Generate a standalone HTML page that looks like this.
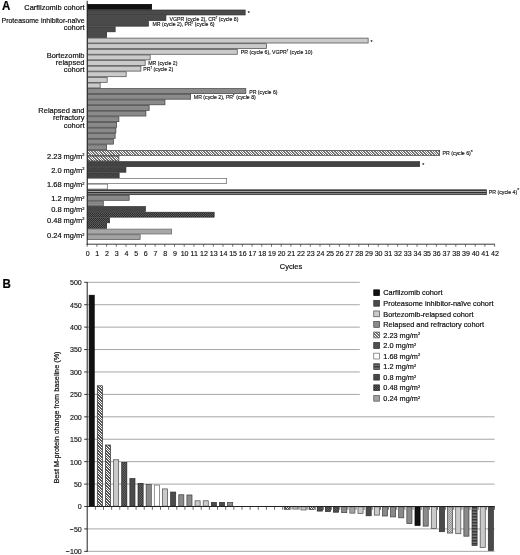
<!DOCTYPE html>
<html lang="en"><head><meta charset="utf-8"><title>Figure</title>
<style>
html,body{margin:0;padding:0;background:#fff;}
body{width:520px;height:555px;overflow:hidden;font-family:"Liberation Sans", sans-serif;}
svg{display:block;position:absolute;left:0;top:0;}
text{font-family:"Liberation Sans", sans-serif;fill:#0c0c0c;stroke:#0c0c0c;stroke-width:0.19px;}
.l{font-size:8.05px;}
.g{font-size:7.95px;}
.t{font-size:8px;stroke-width:0.14px;}
.a{font-size:5.8px;stroke-width:0.13px;}
.p{font-size:12px;font-weight:bold;fill:#000;stroke-width:0.2px;}
</style></head><body>
<svg width="520" height="555" viewBox="0 0 520 555">

<defs>
<pattern id="pHatch" width="1.65" height="1.65" patternUnits="userSpaceOnUse"><rect width="1.65" height="1.65" fill="#eeeeee"/><path d="M-1,-1 L2.65,2.65 M0.6499999999999999,-1 L2.65,1 M-1,0.6499999999999999 L1,2.65" stroke="#8c8c8c" stroke-width="0.55" fill="none"/></pattern>
<pattern id="pHatchB" width="1.6" height="1.6" patternUnits="userSpaceOnUse"><rect width="1.6" height="1.6" fill="#ffffff"/><path d="M-1,-1 L2.6,2.6 M0.6000000000000001,-1 L2.6,1 M-1,0.6000000000000001 L1,2.6" stroke="#333333" stroke-width="0.55" fill="none"/></pattern>
<pattern id="pHatchX" width="1.8" height="1.8" patternUnits="userSpaceOnUse"><rect width="1.8" height="1.8" fill="#e8e8e8"/><rect x="0" y="0" width="0.8" height="0.8" fill="#555555"/><rect x="0.9" y="0.9" width="0.8" height="0.8" fill="#555555"/></pattern>
<pattern id="pCross" width="1.6" height="1.6" patternUnits="userSpaceOnUse"><rect width="1.6" height="1.6" fill="#363636"/><rect x="0" y="0" width="0.7" height="0.7" fill="#585858"/><rect x="0.8" y="0.8" width="0.7" height="0.7" fill="#585858"/></pattern>
<pattern id="pCrossB" width="1.7" height="1.7" patternUnits="userSpaceOnUse"><rect width="1.7" height="1.7" fill="#262626"/><rect x="0" y="0" width="0.68" height="0.68" fill="#a8a8a8"/><rect x="0.85" y="0.85" width="0.68" height="0.68" fill="#a8a8a8"/></pattern>
<pattern id="pCross2" width="2.0" height="2.0" patternUnits="userSpaceOnUse"><rect width="2.0" height="2.0" fill="#2e2e2e"/><rect x="0" y="0" width="0.9" height="0.9" fill="#666666"/><rect x="1.0" y="1.0" width="0.9" height="0.9" fill="#666666"/></pattern>
<pattern id="pDots" width="1.4" height="1.4" patternUnits="userSpaceOnUse"><rect width="1.4" height="1.4" fill="#3c3c3c"/><rect x="0" y="0" width="0.6" height="0.6" fill="#565656"/><rect x="0.7" y="0.7" width="0.6" height="0.6" fill="#565656"/></pattern>
<pattern id="pHs" width="4" height="2.25" patternUnits="userSpaceOnUse" patternTransform="translate(0,189.76)"><rect width="4" height="2.25" fill="#b4b4b4"/><rect width="4" height="1.3" fill="#2a2a2a"/></pattern>
<pattern id="pHsB" width="4" height="1.5" patternUnits="userSpaceOnUse"><rect width="4" height="1.5" fill="#8a8a8a"/><rect width="4" height="0.8" fill="#2a2a2a"/></pattern>
<pattern id="pMs" width="4" height="1.9" patternUnits="userSpaceOnUse"><rect width="4" height="1.9" fill="#9a9a9a"/><rect width="4" height="0.8" fill="#6a6a6a"/></pattern>
<pattern id="pLm" width="1.5" height="1.5" patternUnits="userSpaceOnUse"><rect width="1.5" height="1.5" fill="#a0a0a0"/><rect x="0" y="0" width="0.6" height="0.6" fill="#b6b6b6"/><rect x="0.75" y="0.75" width="0.6" height="0.6" fill="#b6b6b6"/></pattern>
</defs>
<g id="chartA">
<rect x="87.50" y="4.40" width="64.15" height="4.92" fill="#111" stroke="#000" stroke-width="0.7"/>
<rect x="87.50" y="10.02" width="157.65" height="4.92" fill="#4a4a4a" stroke="#2e2e2e" stroke-width="0.7"/>
<rect x="87.50" y="15.63" width="78.40" height="4.92" fill="#4a4a4a" stroke="#2e2e2e" stroke-width="0.7"/>
<rect x="87.50" y="21.25" width="60.90" height="4.92" fill="#4a4a4a" stroke="#2e2e2e" stroke-width="0.7"/>
<rect x="87.50" y="26.87" width="27.65" height="4.92" fill="#4a4a4a" stroke="#2e2e2e" stroke-width="0.7"/>
<rect x="87.50" y="32.48" width="19.15" height="4.92" fill="#4a4a4a" stroke="#2e2e2e" stroke-width="0.7"/>
<rect x="87.50" y="38.10" width="280.65" height="4.92" fill="#cacaca" stroke="#484848" stroke-width="0.7"/>
<rect x="87.50" y="43.72" width="179.05" height="4.92" fill="#cacaca" stroke="#484848" stroke-width="0.7"/>
<rect x="87.50" y="49.34" width="149.75" height="4.92" fill="#cacaca" stroke="#484848" stroke-width="0.7"/>
<rect x="87.50" y="54.95" width="62.65" height="4.92" fill="#cacaca" stroke="#484848" stroke-width="0.7"/>
<rect x="87.50" y="60.57" width="57.65" height="4.92" fill="#cacaca" stroke="#484848" stroke-width="0.7"/>
<rect x="87.50" y="66.19" width="53.40" height="4.92" fill="#cacaca" stroke="#484848" stroke-width="0.7"/>
<rect x="87.50" y="71.80" width="38.65" height="4.92" fill="#cacaca" stroke="#484848" stroke-width="0.7"/>
<rect x="87.50" y="77.42" width="19.65" height="4.92" fill="#cacaca" stroke="#484848" stroke-width="0.7"/>
<rect x="87.50" y="83.04" width="12.65" height="4.92" fill="#cacaca" stroke="#484848" stroke-width="0.7"/>
<rect x="87.50" y="88.65" width="158.35" height="4.92" fill="#8a8a8a" stroke="#3e3e3e" stroke-width="0.7"/>
<rect x="87.50" y="94.27" width="103.15" height="4.92" fill="#8a8a8a" stroke="#3e3e3e" stroke-width="0.7"/>
<rect x="87.50" y="99.89" width="77.45" height="4.92" fill="#8a8a8a" stroke="#3e3e3e" stroke-width="0.7"/>
<rect x="87.50" y="105.51" width="61.65" height="4.92" fill="#8a8a8a" stroke="#3e3e3e" stroke-width="0.7"/>
<rect x="87.50" y="111.12" width="58.40" height="4.92" fill="#8a8a8a" stroke="#3e3e3e" stroke-width="0.7"/>
<rect x="87.50" y="116.74" width="31.40" height="4.92" fill="#8a8a8a" stroke="#3e3e3e" stroke-width="0.7"/>
<rect x="87.50" y="122.36" width="29.15" height="4.92" fill="#8a8a8a" stroke="#3e3e3e" stroke-width="0.7"/>
<rect x="87.50" y="127.97" width="28.40" height="4.92" fill="#8a8a8a" stroke="#3e3e3e" stroke-width="0.7"/>
<rect x="87.50" y="133.59" width="27.65" height="4.92" fill="#8a8a8a" stroke="#3e3e3e" stroke-width="0.7"/>
<rect x="87.50" y="139.21" width="25.90" height="4.92" fill="#8a8a8a" stroke="#3e3e3e" stroke-width="0.7"/>
<rect x="87.50" y="144.83" width="19.15" height="4.92" fill="#8a8a8a" stroke="#3e3e3e" stroke-width="0.7"/>
<clipPath id="c1"><rect x="87.50" y="150.44" width="352.15" height="4.92"/></clipPath>
<rect x="87.50" y="150.44" width="352.15" height="4.92" fill="#ffffff"/>
<path clip-path="url(#c1)" d="M80.00,149.94l5.92,5.92M81.60,149.94l5.92,5.92M83.20,149.94l5.92,5.92M84.80,149.94l5.92,5.92M86.40,149.94l5.92,5.92M88.00,149.94l5.92,5.92M89.60,149.94l5.92,5.92M91.20,149.94l5.92,5.92M92.80,149.94l5.92,5.92M94.40,149.94l5.92,5.92M96.00,149.94l5.92,5.92M97.60,149.94l5.92,5.92M99.20,149.94l5.92,5.92M100.80,149.94l5.92,5.92M102.40,149.94l5.92,5.92M104.00,149.94l5.92,5.92M105.60,149.94l5.92,5.92M107.20,149.94l5.92,5.92M108.80,149.94l5.92,5.92M110.40,149.94l5.92,5.92M112.00,149.94l5.92,5.92M113.60,149.94l5.92,5.92M115.20,149.94l5.92,5.92M116.80,149.94l5.92,5.92M118.40,149.94l5.92,5.92M120.00,149.94l5.92,5.92M121.60,149.94l5.92,5.92M123.20,149.94l5.92,5.92M124.80,149.94l5.92,5.92M126.40,149.94l5.92,5.92M128.00,149.94l5.92,5.92M129.60,149.94l5.92,5.92M131.20,149.94l5.92,5.92M132.80,149.94l5.92,5.92M134.40,149.94l5.92,5.92M136.00,149.94l5.92,5.92M137.60,149.94l5.92,5.92M139.20,149.94l5.92,5.92M140.80,149.94l5.92,5.92M142.40,149.94l5.92,5.92M144.00,149.94l5.92,5.92M145.60,149.94l5.92,5.92M147.20,149.94l5.92,5.92M148.80,149.94l5.92,5.92M150.40,149.94l5.92,5.92M152.00,149.94l5.92,5.92M153.60,149.94l5.92,5.92M155.20,149.94l5.92,5.92M156.80,149.94l5.92,5.92M158.40,149.94l5.92,5.92M160.00,149.94l5.92,5.92M161.60,149.94l5.92,5.92M163.20,149.94l5.92,5.92M164.80,149.94l5.92,5.92M166.40,149.94l5.92,5.92M168.00,149.94l5.92,5.92M169.60,149.94l5.92,5.92M171.20,149.94l5.92,5.92M172.80,149.94l5.92,5.92M174.40,149.94l5.92,5.92M176.00,149.94l5.92,5.92M177.60,149.94l5.92,5.92M179.20,149.94l5.92,5.92M180.80,149.94l5.92,5.92M182.40,149.94l5.92,5.92M184.00,149.94l5.92,5.92M185.60,149.94l5.92,5.92M187.20,149.94l5.92,5.92M188.80,149.94l5.92,5.92M190.40,149.94l5.92,5.92M192.00,149.94l5.92,5.92M193.60,149.94l5.92,5.92M195.20,149.94l5.92,5.92M196.80,149.94l5.92,5.92M198.40,149.94l5.92,5.92M200.00,149.94l5.92,5.92M201.60,149.94l5.92,5.92M203.20,149.94l5.92,5.92M204.80,149.94l5.92,5.92M206.40,149.94l5.92,5.92M208.00,149.94l5.92,5.92M209.60,149.94l5.92,5.92M211.20,149.94l5.92,5.92M212.80,149.94l5.92,5.92M214.40,149.94l5.92,5.92M216.00,149.94l5.92,5.92M217.60,149.94l5.92,5.92M219.20,149.94l5.92,5.92M220.80,149.94l5.92,5.92M222.40,149.94l5.92,5.92M224.00,149.94l5.92,5.92M225.60,149.94l5.92,5.92M227.20,149.94l5.92,5.92M228.80,149.94l5.92,5.92M230.40,149.94l5.92,5.92M232.00,149.94l5.92,5.92M233.60,149.94l5.92,5.92M235.20,149.94l5.92,5.92M236.80,149.94l5.92,5.92M238.40,149.94l5.92,5.92M240.00,149.94l5.92,5.92M241.60,149.94l5.92,5.92M243.20,149.94l5.92,5.92M244.80,149.94l5.92,5.92M246.40,149.94l5.92,5.92M248.00,149.94l5.92,5.92M249.60,149.94l5.92,5.92M251.20,149.94l5.92,5.92M252.80,149.94l5.92,5.92M254.40,149.94l5.92,5.92M256.00,149.94l5.92,5.92M257.60,149.94l5.92,5.92M259.20,149.94l5.92,5.92M260.80,149.94l5.92,5.92M262.40,149.94l5.92,5.92M264.00,149.94l5.92,5.92M265.60,149.94l5.92,5.92M267.20,149.94l5.92,5.92M268.80,149.94l5.92,5.92M270.40,149.94l5.92,5.92M272.00,149.94l5.92,5.92M273.60,149.94l5.92,5.92M275.20,149.94l5.92,5.92M276.80,149.94l5.92,5.92M278.40,149.94l5.92,5.92M280.00,149.94l5.92,5.92M281.60,149.94l5.92,5.92M283.20,149.94l5.92,5.92M284.80,149.94l5.92,5.92M286.40,149.94l5.92,5.92M288.00,149.94l5.92,5.92M289.60,149.94l5.92,5.92M291.20,149.94l5.92,5.92M292.80,149.94l5.92,5.92M294.40,149.94l5.92,5.92M296.00,149.94l5.92,5.92M297.60,149.94l5.92,5.92M299.20,149.94l5.92,5.92M300.80,149.94l5.92,5.92M302.40,149.94l5.92,5.92M304.00,149.94l5.92,5.92M305.60,149.94l5.92,5.92M307.20,149.94l5.92,5.92M308.80,149.94l5.92,5.92M310.40,149.94l5.92,5.92M312.00,149.94l5.92,5.92M313.60,149.94l5.92,5.92M315.20,149.94l5.92,5.92M316.80,149.94l5.92,5.92M318.40,149.94l5.92,5.92M320.00,149.94l5.92,5.92M321.60,149.94l5.92,5.92M323.20,149.94l5.92,5.92M324.80,149.94l5.92,5.92M326.40,149.94l5.92,5.92M328.00,149.94l5.92,5.92M329.60,149.94l5.92,5.92M331.20,149.94l5.92,5.92M332.80,149.94l5.92,5.92M334.40,149.94l5.92,5.92M336.00,149.94l5.92,5.92M337.60,149.94l5.92,5.92M339.20,149.94l5.92,5.92M340.80,149.94l5.92,5.92M342.40,149.94l5.92,5.92M344.00,149.94l5.92,5.92M345.60,149.94l5.92,5.92M347.20,149.94l5.92,5.92M348.80,149.94l5.92,5.92M350.40,149.94l5.92,5.92M352.00,149.94l5.92,5.92M353.60,149.94l5.92,5.92M355.20,149.94l5.92,5.92M356.80,149.94l5.92,5.92M358.40,149.94l5.92,5.92M360.00,149.94l5.92,5.92M361.60,149.94l5.92,5.92M363.20,149.94l5.92,5.92M364.80,149.94l5.92,5.92M366.40,149.94l5.92,5.92M368.00,149.94l5.92,5.92M369.60,149.94l5.92,5.92M371.20,149.94l5.92,5.92M372.80,149.94l5.92,5.92M374.40,149.94l5.92,5.92M376.00,149.94l5.92,5.92M377.60,149.94l5.92,5.92M379.20,149.94l5.92,5.92M380.80,149.94l5.92,5.92M382.40,149.94l5.92,5.92M384.00,149.94l5.92,5.92M385.60,149.94l5.92,5.92M387.20,149.94l5.92,5.92M388.80,149.94l5.92,5.92M390.40,149.94l5.92,5.92M392.00,149.94l5.92,5.92M393.60,149.94l5.92,5.92M395.20,149.94l5.92,5.92M396.80,149.94l5.92,5.92M398.40,149.94l5.92,5.92M400.00,149.94l5.92,5.92M401.60,149.94l5.92,5.92M403.20,149.94l5.92,5.92M404.80,149.94l5.92,5.92M406.40,149.94l5.92,5.92M408.00,149.94l5.92,5.92M409.60,149.94l5.92,5.92M411.20,149.94l5.92,5.92M412.80,149.94l5.92,5.92M414.40,149.94l5.92,5.92M416.00,149.94l5.92,5.92M417.60,149.94l5.92,5.92M419.20,149.94l5.92,5.92M420.80,149.94l5.92,5.92M422.40,149.94l5.92,5.92M424.00,149.94l5.92,5.92M425.60,149.94l5.92,5.92M427.20,149.94l5.92,5.92M428.80,149.94l5.92,5.92M430.40,149.94l5.92,5.92M432.00,149.94l5.92,5.92M433.60,149.94l5.92,5.92M435.20,149.94l5.92,5.92M436.80,149.94l5.92,5.92M438.40,149.94l5.92,5.92M440.00,149.94l5.92,5.92" stroke="#141414" stroke-width="0.6" fill="none" shape-rendering="crispEdges"/>
<rect x="87.50" y="150.44" width="352.15" height="4.92" fill="none" stroke="#3a3a3a" stroke-width="0.7"/>
<clipPath id="c2"><rect x="87.50" y="156.06" width="31.40" height="4.92"/></clipPath>
<rect x="87.50" y="156.06" width="31.40" height="4.92" fill="#ffffff"/>
<path clip-path="url(#c2)" d="M80.00,155.56l5.92,5.92M81.60,155.56l5.92,5.92M83.20,155.56l5.92,5.92M84.80,155.56l5.92,5.92M86.40,155.56l5.92,5.92M88.00,155.56l5.92,5.92M89.60,155.56l5.92,5.92M91.20,155.56l5.92,5.92M92.80,155.56l5.92,5.92M94.40,155.56l5.92,5.92M96.00,155.56l5.92,5.92M97.60,155.56l5.92,5.92M99.20,155.56l5.92,5.92M100.80,155.56l5.92,5.92M102.40,155.56l5.92,5.92M104.00,155.56l5.92,5.92M105.60,155.56l5.92,5.92M107.20,155.56l5.92,5.92M108.80,155.56l5.92,5.92M110.40,155.56l5.92,5.92M112.00,155.56l5.92,5.92M113.60,155.56l5.92,5.92M115.20,155.56l5.92,5.92M116.80,155.56l5.92,5.92M118.40,155.56l5.92,5.92" stroke="#141414" stroke-width="0.6" fill="none" shape-rendering="crispEdges"/>
<rect x="87.50" y="156.06" width="31.40" height="4.92" fill="none" stroke="#3a3a3a" stroke-width="0.7"/>
<rect x="87.50" y="161.68" width="332.15" height="4.92" fill="url(#pCross)" stroke="#2e2e2e" stroke-width="0.7"/>
<rect x="87.50" y="167.29" width="38.40" height="4.92" fill="url(#pCross)" stroke="#2e2e2e" stroke-width="0.7"/>
<rect x="87.50" y="172.91" width="31.65" height="4.92" fill="url(#pCross)" stroke="#2e2e2e" stroke-width="0.7"/>
<rect x="87.50" y="178.53" width="139.15" height="4.92" fill="#fff" stroke="#666" stroke-width="0.7"/>
<rect x="87.50" y="184.14" width="20.15" height="4.92" fill="#fff" stroke="#666" stroke-width="0.7"/>
<rect x="87.50" y="189.76" width="398.95" height="4.92" fill="url(#pHs)" stroke="#333" stroke-width="0.7"/>
<rect x="87.50" y="195.38" width="41.65" height="4.92" fill="#8a8a8a" stroke="#3e3e3e" stroke-width="0.7"/>
<rect x="87.50" y="201.00" width="15.90" height="4.92" fill="url(#pMs)" stroke="#555" stroke-width="0.7"/>
<rect x="87.50" y="206.61" width="57.90" height="4.92" fill="url(#pDots)" stroke="#2e2e2e" stroke-width="0.7"/>
<rect x="87.50" y="212.23" width="126.65" height="4.92" fill="url(#pCross2)" stroke="#2a2a2a" stroke-width="0.7"/>
<rect x="87.50" y="217.85" width="22.15" height="4.92" fill="url(#pCross2)" stroke="#2a2a2a" stroke-width="0.7"/>
<rect x="87.50" y="223.46" width="19.15" height="4.92" fill="url(#pCross2)" stroke="#2a2a2a" stroke-width="0.7"/>
<rect x="87.50" y="229.08" width="84.15" height="4.92" fill="url(#pLm)" stroke="#666" stroke-width="0.7"/>
<rect x="87.50" y="234.70" width="52.65" height="4.92" fill="#a2a2a2" stroke="#555" stroke-width="0.7"/>
<line x1="87.20" y1="0.8" x2="87.20" y2="245" stroke="#222" stroke-width="1"/>
<line x1="86.70" y1="244.2" x2="495.00" y2="244.2" stroke="#222" stroke-width="0.9"/>
<line x1="87.20" y1="244.3" x2="87.20" y2="246.7" stroke="#3a3a3a" stroke-width="0.75"/>
<line x1="96.90" y1="244.3" x2="96.90" y2="246.7" stroke="#3a3a3a" stroke-width="0.75"/>
<line x1="106.60" y1="244.3" x2="106.60" y2="246.7" stroke="#3a3a3a" stroke-width="0.75"/>
<line x1="116.30" y1="244.3" x2="116.30" y2="246.7" stroke="#3a3a3a" stroke-width="0.75"/>
<line x1="126.00" y1="244.3" x2="126.00" y2="246.7" stroke="#3a3a3a" stroke-width="0.75"/>
<line x1="135.70" y1="244.3" x2="135.70" y2="246.7" stroke="#3a3a3a" stroke-width="0.75"/>
<line x1="145.40" y1="244.3" x2="145.40" y2="246.7" stroke="#3a3a3a" stroke-width="0.75"/>
<line x1="155.10" y1="244.3" x2="155.10" y2="246.7" stroke="#3a3a3a" stroke-width="0.75"/>
<line x1="164.80" y1="244.3" x2="164.80" y2="246.7" stroke="#3a3a3a" stroke-width="0.75"/>
<line x1="174.50" y1="244.3" x2="174.50" y2="246.7" stroke="#3a3a3a" stroke-width="0.75"/>
<line x1="184.20" y1="244.3" x2="184.20" y2="246.7" stroke="#3a3a3a" stroke-width="0.75"/>
<line x1="193.90" y1="244.3" x2="193.90" y2="246.7" stroke="#3a3a3a" stroke-width="0.75"/>
<line x1="203.60" y1="244.3" x2="203.60" y2="246.7" stroke="#3a3a3a" stroke-width="0.75"/>
<line x1="213.30" y1="244.3" x2="213.30" y2="246.7" stroke="#3a3a3a" stroke-width="0.75"/>
<line x1="223.00" y1="244.3" x2="223.00" y2="246.7" stroke="#3a3a3a" stroke-width="0.75"/>
<line x1="232.70" y1="244.3" x2="232.70" y2="246.7" stroke="#3a3a3a" stroke-width="0.75"/>
<line x1="242.40" y1="244.3" x2="242.40" y2="246.7" stroke="#3a3a3a" stroke-width="0.75"/>
<line x1="252.10" y1="244.3" x2="252.10" y2="246.7" stroke="#3a3a3a" stroke-width="0.75"/>
<line x1="261.80" y1="244.3" x2="261.80" y2="246.7" stroke="#3a3a3a" stroke-width="0.75"/>
<line x1="271.50" y1="244.3" x2="271.50" y2="246.7" stroke="#3a3a3a" stroke-width="0.75"/>
<line x1="281.20" y1="244.3" x2="281.20" y2="246.7" stroke="#3a3a3a" stroke-width="0.75"/>
<line x1="290.90" y1="244.3" x2="290.90" y2="246.7" stroke="#3a3a3a" stroke-width="0.75"/>
<line x1="300.60" y1="244.3" x2="300.60" y2="246.7" stroke="#3a3a3a" stroke-width="0.75"/>
<line x1="310.30" y1="244.3" x2="310.30" y2="246.7" stroke="#3a3a3a" stroke-width="0.75"/>
<line x1="320.00" y1="244.3" x2="320.00" y2="246.7" stroke="#3a3a3a" stroke-width="0.75"/>
<line x1="329.70" y1="244.3" x2="329.70" y2="246.7" stroke="#3a3a3a" stroke-width="0.75"/>
<line x1="339.40" y1="244.3" x2="339.40" y2="246.7" stroke="#3a3a3a" stroke-width="0.75"/>
<line x1="349.10" y1="244.3" x2="349.10" y2="246.7" stroke="#3a3a3a" stroke-width="0.75"/>
<line x1="358.80" y1="244.3" x2="358.80" y2="246.7" stroke="#3a3a3a" stroke-width="0.75"/>
<line x1="368.50" y1="244.3" x2="368.50" y2="246.7" stroke="#3a3a3a" stroke-width="0.75"/>
<line x1="378.20" y1="244.3" x2="378.20" y2="246.7" stroke="#3a3a3a" stroke-width="0.75"/>
<line x1="387.90" y1="244.3" x2="387.90" y2="246.7" stroke="#3a3a3a" stroke-width="0.75"/>
<line x1="397.60" y1="244.3" x2="397.60" y2="246.7" stroke="#3a3a3a" stroke-width="0.75"/>
<line x1="407.30" y1="244.3" x2="407.30" y2="246.7" stroke="#3a3a3a" stroke-width="0.75"/>
<line x1="417.00" y1="244.3" x2="417.00" y2="246.7" stroke="#3a3a3a" stroke-width="0.75"/>
<line x1="426.70" y1="244.3" x2="426.70" y2="246.7" stroke="#3a3a3a" stroke-width="0.75"/>
<line x1="436.40" y1="244.3" x2="436.40" y2="246.7" stroke="#3a3a3a" stroke-width="0.75"/>
<line x1="446.10" y1="244.3" x2="446.10" y2="246.7" stroke="#3a3a3a" stroke-width="0.75"/>
<line x1="455.80" y1="244.3" x2="455.80" y2="246.7" stroke="#3a3a3a" stroke-width="0.75"/>
<line x1="465.50" y1="244.3" x2="465.50" y2="246.7" stroke="#3a3a3a" stroke-width="0.75"/>
<line x1="475.20" y1="244.3" x2="475.20" y2="246.7" stroke="#3a3a3a" stroke-width="0.75"/>
<line x1="484.90" y1="244.3" x2="484.90" y2="246.7" stroke="#3a3a3a" stroke-width="0.75"/>
<line x1="494.60" y1="244.3" x2="494.60" y2="246.7" stroke="#3a3a3a" stroke-width="0.75"/>
<text class="t" transform="translate(87.60 255.60) scale(0.885 1)" text-anchor="middle">0</text>
<text class="t" transform="translate(97.30 255.60) scale(0.885 1)" text-anchor="middle">1</text>
<text class="t" transform="translate(107.00 255.60) scale(0.885 1)" text-anchor="middle">2</text>
<text class="t" transform="translate(116.70 255.60) scale(0.885 1)" text-anchor="middle">3</text>
<text class="t" transform="translate(126.40 255.60) scale(0.885 1)" text-anchor="middle">4</text>
<text class="t" transform="translate(136.10 255.60) scale(0.885 1)" text-anchor="middle">5</text>
<text class="t" transform="translate(145.80 255.60) scale(0.885 1)" text-anchor="middle">6</text>
<text class="t" transform="translate(155.50 255.60) scale(0.885 1)" text-anchor="middle">7</text>
<text class="t" transform="translate(165.20 255.60) scale(0.885 1)" text-anchor="middle">8</text>
<text class="t" transform="translate(174.90 255.60) scale(0.885 1)" text-anchor="middle">9</text>
<text class="t" transform="translate(184.60 255.60) scale(0.885 1)" text-anchor="middle">10</text>
<text class="t" transform="translate(194.30 255.60) scale(0.885 1)" text-anchor="middle">11</text>
<text class="t" transform="translate(204.00 255.60) scale(0.885 1)" text-anchor="middle">12</text>
<text class="t" transform="translate(213.70 255.60) scale(0.885 1)" text-anchor="middle">13</text>
<text class="t" transform="translate(223.40 255.60) scale(0.885 1)" text-anchor="middle">14</text>
<text class="t" transform="translate(233.10 255.60) scale(0.885 1)" text-anchor="middle">15</text>
<text class="t" transform="translate(242.80 255.60) scale(0.885 1)" text-anchor="middle">16</text>
<text class="t" transform="translate(252.50 255.60) scale(0.885 1)" text-anchor="middle">17</text>
<text class="t" transform="translate(262.20 255.60) scale(0.885 1)" text-anchor="middle">18</text>
<text class="t" transform="translate(271.90 255.60) scale(0.885 1)" text-anchor="middle">19</text>
<text class="t" transform="translate(281.60 255.60) scale(0.885 1)" text-anchor="middle">20</text>
<text class="t" transform="translate(291.30 255.60) scale(0.885 1)" text-anchor="middle">21</text>
<text class="t" transform="translate(301.00 255.60) scale(0.885 1)" text-anchor="middle">22</text>
<text class="t" transform="translate(310.70 255.60) scale(0.885 1)" text-anchor="middle">23</text>
<text class="t" transform="translate(320.40 255.60) scale(0.885 1)" text-anchor="middle">24</text>
<text class="t" transform="translate(330.10 255.60) scale(0.885 1)" text-anchor="middle">25</text>
<text class="t" transform="translate(339.80 255.60) scale(0.885 1)" text-anchor="middle">26</text>
<text class="t" transform="translate(349.50 255.60) scale(0.885 1)" text-anchor="middle">27</text>
<text class="t" transform="translate(359.20 255.60) scale(0.885 1)" text-anchor="middle">28</text>
<text class="t" transform="translate(368.90 255.60) scale(0.885 1)" text-anchor="middle">29</text>
<text class="t" transform="translate(378.60 255.60) scale(0.885 1)" text-anchor="middle">30</text>
<text class="t" transform="translate(388.30 255.60) scale(0.885 1)" text-anchor="middle">31</text>
<text class="t" transform="translate(398.00 255.60) scale(0.885 1)" text-anchor="middle">32</text>
<text class="t" transform="translate(407.70 255.60) scale(0.885 1)" text-anchor="middle">33</text>
<text class="t" transform="translate(417.40 255.60) scale(0.885 1)" text-anchor="middle">34</text>
<text class="t" transform="translate(427.10 255.60) scale(0.885 1)" text-anchor="middle">35</text>
<text class="t" transform="translate(436.80 255.60) scale(0.885 1)" text-anchor="middle">36</text>
<text class="t" transform="translate(446.50 255.60) scale(0.885 1)" text-anchor="middle">37</text>
<text class="t" transform="translate(456.20 255.60) scale(0.885 1)" text-anchor="middle">38</text>
<text class="t" transform="translate(465.90 255.60) scale(0.885 1)" text-anchor="middle">39</text>
<text class="t" transform="translate(475.60 255.60) scale(0.885 1)" text-anchor="middle">40</text>
<text class="t" transform="translate(485.30 255.60) scale(0.885 1)" text-anchor="middle">41</text>
<text class="t" transform="translate(495.00 255.60) scale(0.885 1)" text-anchor="middle">42</text>
<text class="l" transform="translate(291.00 268.90) scale(0.93 1)" text-anchor="middle">Cycles</text>
<text class="l" transform="translate(84.50 9.70) scale(0.93 1)" text-anchor="end">Carfilzomib cohort</text>
<text class="l" transform="translate(84.50 23.30) scale(0.93 1)" text-anchor="end" textLength="89.2" lengthAdjust="spacingAndGlyphs">Proteasome inhibitor-naïve</text>
<text class="l" transform="translate(84.50 30.35) scale(0.93 1)" text-anchor="end">cohort</text>
<text class="l" transform="translate(84.50 58.10) scale(0.93 1)" text-anchor="end">Bortezomib</text>
<text class="l" transform="translate(84.50 65.25) scale(0.93 1)" text-anchor="end">relapsed</text>
<text class="l" transform="translate(84.50 72.40) scale(0.93 1)" text-anchor="end">cohort</text>
<text class="l" transform="translate(84.50 113.10) scale(0.93 1)" text-anchor="end">Relapsed and</text>
<text class="l" transform="translate(84.50 120.40) scale(0.93 1)" text-anchor="end">refractory</text>
<text class="l" transform="translate(84.50 127.60) scale(0.93 1)" text-anchor="end">cohort</text>
<text class="l" transform="translate(84.50 158.60) scale(0.93 1)" text-anchor="end">2.23 mg/m<tspan font-size="4.2" dy="-2.3">2</tspan></text>
<text class="l" transform="translate(84.50 172.70) scale(0.93 1)" text-anchor="end">2.0 mg/m<tspan font-size="4.2" dy="-2.3">2</tspan></text>
<text class="l" transform="translate(84.50 187.10) scale(0.93 1)" text-anchor="end">1.68 mg/m<tspan font-size="4.2" dy="-2.3">2</tspan></text>
<text class="l" transform="translate(84.50 201.10) scale(0.93 1)" text-anchor="end">1.2 mg/m<tspan font-size="4.2" dy="-2.3">2</tspan></text>
<text class="l" transform="translate(84.50 211.95) scale(0.93 1)" text-anchor="end">0.8 mg/m<tspan font-size="4.2" dy="-2.3">2</tspan></text>
<text class="l" transform="translate(84.50 222.50) scale(0.93 1)" text-anchor="end">0.48 mg/m<tspan font-size="4.2" dy="-2.3">2</tspan></text>
<text class="l" transform="translate(84.50 238.35) scale(0.93 1)" text-anchor="end">0.24 mg/m<tspan font-size="4.2" dy="-2.3">2</tspan></text>
<text class="a" transform="translate(247.80 15.00) scale(0.9 1)" text-anchor="start">*</text>
<text class="a" transform="translate(169.50 20.65) scale(0.9 1)" text-anchor="start">VGPR (cycle 2), CR<tspan font-size="3.2" dy="-2.1">†</tspan><tspan dy="2.1"> </tspan>(cycle 8)</text>
<text class="a" transform="translate(152.50 26.40) scale(0.9 1)" text-anchor="start">MR (cycle 2), PR<tspan font-size="3.2" dy="-2.1">†</tspan><tspan dy="2.1"> </tspan>(cycle 6)</text>
<text class="a" transform="translate(370.50 44.10) scale(0.9 1)" text-anchor="start">*</text>
<text class="a" transform="translate(240.80 53.90) scale(0.9 1)" text-anchor="start">PR (cycle 6), VGPR<tspan font-size="3.2" dy="-2.1">†</tspan><tspan dy="2.1"> </tspan>(cycle 10)</text>
<text class="a" transform="translate(148.20 65.15) scale(0.9 1)" text-anchor="start">MR (cycle 2)</text>
<text class="a" transform="translate(143.30 70.80) scale(0.9 1)" text-anchor="start">PR<tspan font-size="3.2" dy="-2.1">†</tspan><tspan dy="2.1"> </tspan>(cycle 2)</text>
<text class="a" transform="translate(249.20 93.60) scale(0.9 1)" text-anchor="start">PR (cycle 6)</text>
<text class="a" transform="translate(193.80 99.40) scale(0.9 1)" text-anchor="start">MR (cycle 2), PR<tspan font-size="3.2" dy="-2.1">†</tspan><tspan dy="2.1"> </tspan>(cycle 8)</text>
<text class="a" transform="translate(442.50 155.10) scale(0.9 1)" text-anchor="start">PR (cycle 6)<tspan dy="-1.2">*</tspan></text>
<text class="a" transform="translate(422.30 166.80) scale(0.9 1)" text-anchor="start">*</text>
<text class="a" transform="translate(488.80 193.60) scale(0.9 1)" text-anchor="start">PR (cycle 4)<tspan dy="-1.2">*</tspan></text>
<text class="p" transform="translate(1.90 10.35) scale(0.96 1)" text-anchor="start">A</text>
</g>
<g id="chartB">
<text class="p" transform="translate(2.50 288.20) scale(0.96 1)" text-anchor="start">B</text>
<line x1="87.20" y1="551.34" x2="494.60" y2="551.34" stroke="#9c9c9c" stroke-width="0.9"/>
<line x1="87.20" y1="528.92" x2="494.60" y2="528.92" stroke="#9c9c9c" stroke-width="0.9"/>
<line x1="87.20" y1="484.08" x2="494.60" y2="484.08" stroke="#9c9c9c" stroke-width="0.9"/>
<line x1="87.20" y1="461.66" x2="494.60" y2="461.66" stroke="#9c9c9c" stroke-width="0.9"/>
<line x1="87.20" y1="439.24" x2="494.60" y2="439.24" stroke="#9c9c9c" stroke-width="0.9"/>
<line x1="87.20" y1="416.82" x2="494.60" y2="416.82" stroke="#9c9c9c" stroke-width="0.9"/>
<line x1="87.20" y1="394.40" x2="359.80" y2="394.40" stroke="#9c9c9c" stroke-width="0.9"/>
<line x1="87.20" y1="371.98" x2="359.80" y2="371.98" stroke="#9c9c9c" stroke-width="0.9"/>
<line x1="87.20" y1="349.56" x2="359.80" y2="349.56" stroke="#9c9c9c" stroke-width="0.9"/>
<line x1="87.20" y1="327.14" x2="359.80" y2="327.14" stroke="#9c9c9c" stroke-width="0.9"/>
<line x1="87.20" y1="304.72" x2="359.80" y2="304.72" stroke="#9c9c9c" stroke-width="0.9"/>
<line x1="87.20" y1="282.30" x2="359.80" y2="282.30" stroke="#9c9c9c" stroke-width="0.9"/>
<rect x="89.15" y="295.21" width="5.10" height="210.94" fill="#111" stroke="#000" stroke-width="0.7"/>
<clipPath id="c3"><rect x="97.30" y="385.78" width="5.10" height="120.37"/></clipPath>
<rect x="97.30" y="385.78" width="5.10" height="120.37" fill="#ffffff"/>
<path clip-path="url(#c3)" d="M-25.60,385.28l121.37,121.37M-24.00,385.28l121.37,121.37M-22.40,385.28l121.37,121.37M-20.80,385.28l121.37,121.37M-19.20,385.28l121.37,121.37M-17.60,385.28l121.37,121.37M-16.00,385.28l121.37,121.37M-14.40,385.28l121.37,121.37M-12.80,385.28l121.37,121.37M-11.20,385.28l121.37,121.37M-9.60,385.28l121.37,121.37M-8.00,385.28l121.37,121.37M-6.40,385.28l121.37,121.37M-4.80,385.28l121.37,121.37M-3.20,385.28l121.37,121.37M-1.60,385.28l121.37,121.37M0.00,385.28l121.37,121.37M1.60,385.28l121.37,121.37M3.20,385.28l121.37,121.37M4.80,385.28l121.37,121.37M6.40,385.28l121.37,121.37M8.00,385.28l121.37,121.37M9.60,385.28l121.37,121.37M11.20,385.28l121.37,121.37M12.80,385.28l121.37,121.37M14.40,385.28l121.37,121.37M16.00,385.28l121.37,121.37M17.60,385.28l121.37,121.37M19.20,385.28l121.37,121.37M20.80,385.28l121.37,121.37M22.40,385.28l121.37,121.37M24.00,385.28l121.37,121.37M25.60,385.28l121.37,121.37M27.20,385.28l121.37,121.37M28.80,385.28l121.37,121.37M30.40,385.28l121.37,121.37M32.00,385.28l121.37,121.37M33.60,385.28l121.37,121.37M35.20,385.28l121.37,121.37M36.80,385.28l121.37,121.37M38.40,385.28l121.37,121.37M40.00,385.28l121.37,121.37M41.60,385.28l121.37,121.37M43.20,385.28l121.37,121.37M44.80,385.28l121.37,121.37M46.40,385.28l121.37,121.37M48.00,385.28l121.37,121.37M49.60,385.28l121.37,121.37M51.20,385.28l121.37,121.37M52.80,385.28l121.37,121.37M54.40,385.28l121.37,121.37M56.00,385.28l121.37,121.37M57.60,385.28l121.37,121.37M59.20,385.28l121.37,121.37M60.80,385.28l121.37,121.37M62.40,385.28l121.37,121.37M64.00,385.28l121.37,121.37M65.60,385.28l121.37,121.37M67.20,385.28l121.37,121.37M68.80,385.28l121.37,121.37M70.40,385.28l121.37,121.37M72.00,385.28l121.37,121.37M73.60,385.28l121.37,121.37M75.20,385.28l121.37,121.37M76.80,385.28l121.37,121.37M78.40,385.28l121.37,121.37M80.00,385.28l121.37,121.37M81.60,385.28l121.37,121.37M83.20,385.28l121.37,121.37M84.80,385.28l121.37,121.37M86.40,385.28l121.37,121.37M88.00,385.28l121.37,121.37M89.60,385.28l121.37,121.37M91.20,385.28l121.37,121.37M92.80,385.28l121.37,121.37M94.40,385.28l121.37,121.37M96.00,385.28l121.37,121.37M97.60,385.28l121.37,121.37M99.20,385.28l121.37,121.37M100.80,385.28l121.37,121.37M102.40,385.28l121.37,121.37" stroke="#141414" stroke-width="0.72" fill="none" shape-rendering="crispEdges"/>
<rect x="97.30" y="385.78" width="5.10" height="120.37" fill="none" stroke="#333" stroke-width="0.7"/>
<clipPath id="c4"><rect x="105.44" y="444.97" width="5.10" height="61.18"/></clipPath>
<rect x="105.44" y="444.97" width="5.10" height="61.18" fill="#ffffff"/>
<path clip-path="url(#c4)" d="M43.20,444.47l62.18,62.18M44.80,444.47l62.18,62.18M46.40,444.47l62.18,62.18M48.00,444.47l62.18,62.18M49.60,444.47l62.18,62.18M51.20,444.47l62.18,62.18M52.80,444.47l62.18,62.18M54.40,444.47l62.18,62.18M56.00,444.47l62.18,62.18M57.60,444.47l62.18,62.18M59.20,444.47l62.18,62.18M60.80,444.47l62.18,62.18M62.40,444.47l62.18,62.18M64.00,444.47l62.18,62.18M65.60,444.47l62.18,62.18M67.20,444.47l62.18,62.18M68.80,444.47l62.18,62.18M70.40,444.47l62.18,62.18M72.00,444.47l62.18,62.18M73.60,444.47l62.18,62.18M75.20,444.47l62.18,62.18M76.80,444.47l62.18,62.18M78.40,444.47l62.18,62.18M80.00,444.47l62.18,62.18M81.60,444.47l62.18,62.18M83.20,444.47l62.18,62.18M84.80,444.47l62.18,62.18M86.40,444.47l62.18,62.18M88.00,444.47l62.18,62.18M89.60,444.47l62.18,62.18M91.20,444.47l62.18,62.18M92.80,444.47l62.18,62.18M94.40,444.47l62.18,62.18M96.00,444.47l62.18,62.18M97.60,444.47l62.18,62.18M99.20,444.47l62.18,62.18M100.80,444.47l62.18,62.18M102.40,444.47l62.18,62.18M104.00,444.47l62.18,62.18M105.60,444.47l62.18,62.18M107.20,444.47l62.18,62.18M108.80,444.47l62.18,62.18M110.40,444.47l62.18,62.18" stroke="#141414" stroke-width="0.72" fill="none" shape-rendering="crispEdges"/>
<rect x="105.44" y="444.97" width="5.10" height="61.18" fill="none" stroke="#333" stroke-width="0.7"/>
<rect x="113.59" y="459.77" width="5.10" height="46.38" fill="#cacaca" stroke="#484848" stroke-width="0.7"/>
<rect x="121.73" y="462.46" width="5.10" height="43.69" fill="url(#pCrossB)" stroke="#222" stroke-width="0.7"/>
<rect x="129.88" y="478.60" width="5.10" height="27.55" fill="#4a4a4a" stroke="#2e2e2e" stroke-width="0.7"/>
<rect x="138.03" y="483.53" width="5.10" height="22.62" fill="url(#pCrossB)" stroke="#222" stroke-width="0.7"/>
<rect x="146.17" y="484.43" width="5.10" height="21.72" fill="#8a8a8a" stroke="#3e3e3e" stroke-width="0.7"/>
<rect x="154.32" y="485.10" width="5.10" height="21.05" fill="#fff" stroke="#666" stroke-width="0.7"/>
<rect x="162.46" y="488.91" width="5.10" height="17.24" fill="#cacaca" stroke="#484848" stroke-width="0.7"/>
<rect x="170.61" y="492.05" width="5.10" height="14.10" fill="#4a4a4a" stroke="#2e2e2e" stroke-width="0.7"/>
<rect x="178.76" y="494.74" width="5.10" height="11.41" fill="#8a8a8a" stroke="#3e3e3e" stroke-width="0.7"/>
<rect x="186.90" y="494.97" width="5.10" height="11.18" fill="#8a8a8a" stroke="#3e3e3e" stroke-width="0.7"/>
<rect x="195.05" y="500.80" width="5.10" height="5.35" fill="#cacaca" stroke="#484848" stroke-width="0.7"/>
<rect x="203.19" y="500.80" width="5.10" height="5.35" fill="#cacaca" stroke="#484848" stroke-width="0.7"/>
<rect x="211.34" y="502.37" width="5.10" height="3.78" fill="#4a4a4a" stroke="#2e2e2e" stroke-width="0.7"/>
<rect x="219.49" y="502.37" width="5.10" height="3.78" fill="#4a4a4a" stroke="#2e2e2e" stroke-width="0.7"/>
<rect x="227.63" y="502.59" width="5.10" height="3.56" fill="#8a8a8a" stroke="#3e3e3e" stroke-width="0.7"/>
<clipPath id="c5"><rect x="284.65" y="506.85" width="5.10" height="2.44"/></clipPath>
<rect x="284.65" y="506.85" width="5.10" height="2.44" fill="#ffffff"/>
<path clip-path="url(#c5)" d="M280.00,506.35l3.44,3.44M281.60,506.35l3.44,3.44M283.20,506.35l3.44,3.44M284.80,506.35l3.44,3.44M286.40,506.35l3.44,3.44M288.00,506.35l3.44,3.44M289.60,506.35l3.44,3.44" stroke="#141414" stroke-width="0.72" fill="none" shape-rendering="crispEdges"/>
<rect x="284.65" y="506.85" width="5.10" height="2.44" fill="none" stroke="#333" stroke-width="0.7"/>
<rect x="292.80" y="506.85" width="5.10" height="2.21" fill="#cacaca" stroke="#484848" stroke-width="0.7"/>
<rect x="300.95" y="506.85" width="5.10" height="3.11" fill="#cacaca" stroke="#484848" stroke-width="0.7"/>
<clipPath id="c6"><rect x="309.09" y="506.85" width="5.10" height="2.66"/></clipPath>
<rect x="309.09" y="506.85" width="5.10" height="2.66" fill="#ffffff"/>
<path clip-path="url(#c6)" d="M304.00,506.35l3.66,3.66M305.60,506.35l3.66,3.66M307.20,506.35l3.66,3.66M308.80,506.35l3.66,3.66M310.40,506.35l3.66,3.66M312.00,506.35l3.66,3.66M313.60,506.35l3.66,3.66" stroke="#141414" stroke-width="0.72" fill="none" shape-rendering="crispEdges"/>
<rect x="309.09" y="506.85" width="5.10" height="2.66" fill="none" stroke="#333" stroke-width="0.7"/>
<rect x="317.24" y="506.85" width="5.10" height="4.23" fill="url(#pCrossB)" stroke="#222" stroke-width="0.7"/>
<rect x="325.38" y="506.85" width="5.10" height="4.68" fill="url(#pCrossB)" stroke="#222" stroke-width="0.7"/>
<rect x="333.53" y="506.85" width="5.10" height="5.35" fill="url(#pCrossB)" stroke="#222" stroke-width="0.7"/>
<rect x="341.68" y="506.85" width="5.10" height="5.80" fill="#8a8a8a" stroke="#3e3e3e" stroke-width="0.7"/>
<rect x="349.82" y="506.85" width="5.10" height="6.30" fill="#a2a2a2" stroke="#555" stroke-width="0.7"/>
<rect x="357.97" y="506.85" width="5.10" height="6.47" fill="#cacaca" stroke="#484848" stroke-width="0.7"/>
<rect x="366.11" y="506.85" width="5.10" height="8.94" fill="#4a4a4a" stroke="#2e2e2e" stroke-width="0.7"/>
<rect x="374.26" y="506.85" width="5.10" height="8.27" fill="#cacaca" stroke="#484848" stroke-width="0.7"/>
<rect x="382.41" y="506.85" width="5.10" height="9.16" fill="#8a8a8a" stroke="#3e3e3e" stroke-width="0.7"/>
<rect x="390.55" y="506.85" width="5.10" height="10.06" fill="#8a8a8a" stroke="#3e3e3e" stroke-width="0.7"/>
<rect x="398.70" y="506.85" width="5.10" height="10.96" fill="#8a8a8a" stroke="#3e3e3e" stroke-width="0.7"/>
<rect x="406.84" y="506.85" width="5.10" height="16.79" fill="#8a8a8a" stroke="#3e3e3e" stroke-width="0.7"/>
<rect x="414.99" y="506.85" width="5.10" height="18.58" fill="#111" stroke="#000" stroke-width="0.7"/>
<rect x="423.14" y="506.85" width="5.10" height="19.30" fill="#8a8a8a" stroke="#3e3e3e" stroke-width="0.7"/>
<rect x="431.28" y="506.85" width="5.10" height="21.72" fill="#cacaca" stroke="#484848" stroke-width="0.7"/>
<rect x="439.43" y="506.85" width="5.10" height="24.86" fill="#4a4a4a" stroke="#2e2e2e" stroke-width="0.7"/>
<rect x="447.57" y="506.85" width="5.10" height="26.20" fill="url(#pHatchX)" stroke="#444" stroke-width="0.7"/>
<rect x="455.72" y="506.85" width="5.10" height="26.88" fill="#cacaca" stroke="#484848" stroke-width="0.7"/>
<rect x="463.87" y="506.85" width="5.10" height="29.34" fill="#8a8a8a" stroke="#3e3e3e" stroke-width="0.7"/>
<rect x="472.01" y="506.85" width="5.10" height="38.76" fill="url(#pHsB)" stroke="#333" stroke-width="0.7"/>
<rect x="480.16" y="506.85" width="5.10" height="40.55" fill="#cacaca" stroke="#484848" stroke-width="0.7"/>
<rect x="488.30" y="506.85" width="5.10" height="43.69" fill="#4a4a4a" stroke="#2e2e2e" stroke-width="0.7"/>
<line x1="87.20" y1="282" x2="87.20" y2="552" stroke="#222" stroke-width="1"/>
<line x1="87.20" y1="506.50" x2="494.8" y2="506.50" stroke="#222" stroke-width="1"/>
<line x1="95.35" y1="506.50" x2="95.35" y2="509.80" stroke="#3a3a3a" stroke-width="0.75"/>
<line x1="103.49" y1="506.50" x2="103.49" y2="509.80" stroke="#3a3a3a" stroke-width="0.75"/>
<line x1="111.64" y1="506.50" x2="111.64" y2="509.80" stroke="#3a3a3a" stroke-width="0.75"/>
<line x1="119.78" y1="506.50" x2="119.78" y2="509.80" stroke="#3a3a3a" stroke-width="0.75"/>
<line x1="127.93" y1="506.50" x2="127.93" y2="509.80" stroke="#3a3a3a" stroke-width="0.75"/>
<line x1="136.08" y1="506.50" x2="136.08" y2="509.80" stroke="#3a3a3a" stroke-width="0.75"/>
<line x1="144.22" y1="506.50" x2="144.22" y2="509.80" stroke="#3a3a3a" stroke-width="0.75"/>
<line x1="152.37" y1="506.50" x2="152.37" y2="509.80" stroke="#3a3a3a" stroke-width="0.75"/>
<line x1="160.51" y1="506.50" x2="160.51" y2="509.80" stroke="#3a3a3a" stroke-width="0.75"/>
<line x1="168.66" y1="506.50" x2="168.66" y2="509.80" stroke="#3a3a3a" stroke-width="0.75"/>
<line x1="176.81" y1="506.50" x2="176.81" y2="509.80" stroke="#3a3a3a" stroke-width="0.75"/>
<line x1="184.95" y1="506.50" x2="184.95" y2="509.80" stroke="#3a3a3a" stroke-width="0.75"/>
<line x1="193.10" y1="506.50" x2="193.10" y2="509.80" stroke="#3a3a3a" stroke-width="0.75"/>
<line x1="201.24" y1="506.50" x2="201.24" y2="509.80" stroke="#3a3a3a" stroke-width="0.75"/>
<line x1="209.39" y1="506.50" x2="209.39" y2="509.80" stroke="#3a3a3a" stroke-width="0.75"/>
<line x1="217.54" y1="506.50" x2="217.54" y2="509.80" stroke="#3a3a3a" stroke-width="0.75"/>
<line x1="225.68" y1="506.50" x2="225.68" y2="509.80" stroke="#3a3a3a" stroke-width="0.75"/>
<line x1="233.83" y1="506.50" x2="233.83" y2="509.80" stroke="#3a3a3a" stroke-width="0.75"/>
<line x1="241.97" y1="506.50" x2="241.97" y2="509.80" stroke="#3a3a3a" stroke-width="0.75"/>
<line x1="250.12" y1="506.50" x2="250.12" y2="509.80" stroke="#3a3a3a" stroke-width="0.75"/>
<line x1="258.27" y1="506.50" x2="258.27" y2="509.80" stroke="#3a3a3a" stroke-width="0.75"/>
<line x1="266.41" y1="506.50" x2="266.41" y2="509.80" stroke="#3a3a3a" stroke-width="0.75"/>
<line x1="274.56" y1="506.50" x2="274.56" y2="509.80" stroke="#3a3a3a" stroke-width="0.75"/>
<line x1="282.70" y1="506.50" x2="282.70" y2="509.80" stroke="#3a3a3a" stroke-width="0.75"/>
<line x1="290.85" y1="506.50" x2="290.85" y2="509.80" stroke="#3a3a3a" stroke-width="0.75"/>
<line x1="299.00" y1="506.50" x2="299.00" y2="509.80" stroke="#3a3a3a" stroke-width="0.75"/>
<line x1="307.14" y1="506.50" x2="307.14" y2="509.80" stroke="#3a3a3a" stroke-width="0.75"/>
<line x1="315.29" y1="506.50" x2="315.29" y2="509.80" stroke="#3a3a3a" stroke-width="0.75"/>
<line x1="323.43" y1="506.50" x2="323.43" y2="509.80" stroke="#3a3a3a" stroke-width="0.75"/>
<line x1="331.58" y1="506.50" x2="331.58" y2="509.80" stroke="#3a3a3a" stroke-width="0.75"/>
<line x1="339.73" y1="506.50" x2="339.73" y2="509.80" stroke="#3a3a3a" stroke-width="0.75"/>
<line x1="347.87" y1="506.50" x2="347.87" y2="509.80" stroke="#3a3a3a" stroke-width="0.75"/>
<line x1="356.02" y1="506.50" x2="356.02" y2="509.80" stroke="#3a3a3a" stroke-width="0.75"/>
<line x1="364.16" y1="506.50" x2="364.16" y2="509.80" stroke="#3a3a3a" stroke-width="0.75"/>
<line x1="372.31" y1="506.50" x2="372.31" y2="509.80" stroke="#3a3a3a" stroke-width="0.75"/>
<line x1="380.46" y1="506.50" x2="380.46" y2="509.80" stroke="#3a3a3a" stroke-width="0.75"/>
<line x1="388.60" y1="506.50" x2="388.60" y2="509.80" stroke="#3a3a3a" stroke-width="0.75"/>
<line x1="396.75" y1="506.50" x2="396.75" y2="509.80" stroke="#3a3a3a" stroke-width="0.75"/>
<line x1="404.89" y1="506.50" x2="404.89" y2="509.80" stroke="#3a3a3a" stroke-width="0.75"/>
<line x1="413.04" y1="506.50" x2="413.04" y2="509.80" stroke="#3a3a3a" stroke-width="0.75"/>
<line x1="421.19" y1="506.50" x2="421.19" y2="509.80" stroke="#3a3a3a" stroke-width="0.75"/>
<line x1="429.33" y1="506.50" x2="429.33" y2="509.80" stroke="#3a3a3a" stroke-width="0.75"/>
<line x1="437.48" y1="506.50" x2="437.48" y2="509.80" stroke="#3a3a3a" stroke-width="0.75"/>
<line x1="445.62" y1="506.50" x2="445.62" y2="509.80" stroke="#3a3a3a" stroke-width="0.75"/>
<line x1="453.77" y1="506.50" x2="453.77" y2="509.80" stroke="#3a3a3a" stroke-width="0.75"/>
<line x1="461.92" y1="506.50" x2="461.92" y2="509.80" stroke="#3a3a3a" stroke-width="0.75"/>
<line x1="470.06" y1="506.50" x2="470.06" y2="509.80" stroke="#3a3a3a" stroke-width="0.75"/>
<line x1="478.21" y1="506.50" x2="478.21" y2="509.80" stroke="#3a3a3a" stroke-width="0.75"/>
<line x1="486.35" y1="506.50" x2="486.35" y2="509.80" stroke="#3a3a3a" stroke-width="0.75"/>
<line x1="494.50" y1="506.50" x2="494.50" y2="509.80" stroke="#3a3a3a" stroke-width="0.75"/>
<line x1="84.2" y1="551.34" x2="87.20" y2="551.34" stroke="#222" stroke-width="0.9"/>
<text class="t" transform="translate(81.80 554.19) scale(0.885 1)" text-anchor="end">−100</text>
<line x1="84.2" y1="528.92" x2="87.20" y2="528.92" stroke="#222" stroke-width="0.9"/>
<text class="t" transform="translate(81.80 531.77) scale(0.885 1)" text-anchor="end">−50</text>
<line x1="84.2" y1="506.50" x2="87.20" y2="506.50" stroke="#222" stroke-width="0.9"/>
<text class="t" transform="translate(81.80 509.35) scale(0.885 1)" text-anchor="end">0</text>
<line x1="84.2" y1="484.08" x2="87.20" y2="484.08" stroke="#222" stroke-width="0.9"/>
<text class="t" transform="translate(81.80 486.93) scale(0.885 1)" text-anchor="end">50</text>
<line x1="84.2" y1="461.66" x2="87.20" y2="461.66" stroke="#222" stroke-width="0.9"/>
<text class="t" transform="translate(81.80 464.51) scale(0.885 1)" text-anchor="end">100</text>
<line x1="84.2" y1="439.24" x2="87.20" y2="439.24" stroke="#222" stroke-width="0.9"/>
<text class="t" transform="translate(81.80 442.09) scale(0.885 1)" text-anchor="end">150</text>
<line x1="84.2" y1="416.82" x2="87.20" y2="416.82" stroke="#222" stroke-width="0.9"/>
<text class="t" transform="translate(81.80 419.67) scale(0.885 1)" text-anchor="end">200</text>
<line x1="84.2" y1="394.40" x2="87.20" y2="394.40" stroke="#222" stroke-width="0.9"/>
<text class="t" transform="translate(81.80 397.25) scale(0.885 1)" text-anchor="end">250</text>
<line x1="84.2" y1="371.98" x2="87.20" y2="371.98" stroke="#222" stroke-width="0.9"/>
<text class="t" transform="translate(81.80 374.83) scale(0.885 1)" text-anchor="end">300</text>
<line x1="84.2" y1="349.56" x2="87.20" y2="349.56" stroke="#222" stroke-width="0.9"/>
<text class="t" transform="translate(81.80 352.41) scale(0.885 1)" text-anchor="end">350</text>
<line x1="84.2" y1="327.14" x2="87.20" y2="327.14" stroke="#222" stroke-width="0.9"/>
<text class="t" transform="translate(81.80 329.99) scale(0.885 1)" text-anchor="end">400</text>
<line x1="84.2" y1="304.72" x2="87.20" y2="304.72" stroke="#222" stroke-width="0.9"/>
<text class="t" transform="translate(81.80 307.57) scale(0.885 1)" text-anchor="end">450</text>
<line x1="84.2" y1="282.30" x2="87.20" y2="282.30" stroke="#222" stroke-width="0.9"/>
<text class="t" transform="translate(81.80 285.15) scale(0.885 1)" text-anchor="end">500</text>
<text class="l" transform="translate(59.2 417.5) rotate(-90) scale(0.905 1)" text-anchor="middle">Best M-protein change from baseline (%)</text>
<rect x="373.75" y="289.85" width="5.8" height="5.8" fill="#111" stroke="#000" stroke-width="0.7"/>
<text class="g" transform="translate(383.30 295.45) scale(0.925 1)" text-anchor="start">Carfilzomib cohort</text>
<rect x="373.75" y="300.41" width="5.8" height="5.8" fill="#4a4a4a" stroke="#2e2e2e" stroke-width="0.7"/>
<text class="g" transform="translate(383.30 306.00) scale(0.925 1)" text-anchor="start">Proteasome inhibitor-naïve cohort</text>
<rect x="373.75" y="310.96" width="5.8" height="5.8" fill="#cacaca" stroke="#484848" stroke-width="0.7"/>
<text class="g" transform="translate(383.30 316.56) scale(0.925 1)" text-anchor="start">Bortezomib-relapsed cohort</text>
<rect x="373.75" y="321.52" width="5.8" height="5.8" fill="#8a8a8a" stroke="#3e3e3e" stroke-width="0.7"/>
<text class="g" transform="translate(383.30 327.12) scale(0.925 1)" text-anchor="start">Relapsed and refractory cohort</text>
<clipPath id="c7"><rect x="373.75" y="332.07" width="5.80" height="5.80"/></clipPath>
<rect x="373.75" y="332.07" width="5.80" height="5.80" fill="#ffffff"/>
<path clip-path="url(#c7)" d="M366.40,331.57l6.80,6.80M368.00,331.57l6.80,6.80M369.60,331.57l6.80,6.80M371.20,331.57l6.80,6.80M372.80,331.57l6.80,6.80M374.40,331.57l6.80,6.80M376.00,331.57l6.80,6.80M377.60,331.57l6.80,6.80M379.20,331.57l6.80,6.80" stroke="#141414" stroke-width="0.6" fill="none" shape-rendering="crispEdges"/>
<rect x="373.75" y="332.07" width="5.80" height="5.80" fill="none" stroke="#444" stroke-width="0.7"/>
<text class="g" transform="translate(383.30 337.67) scale(0.925 1)" text-anchor="start">2.23 mg/m<tspan font-size="4.2" dy="-2.3">2</tspan></text>
<rect x="373.75" y="342.62" width="5.8" height="5.8" fill="url(#pCrossB)" stroke="#222" stroke-width="0.7"/>
<text class="g" transform="translate(383.30 348.22) scale(0.925 1)" text-anchor="start">2.0 mg/m<tspan font-size="4.2" dy="-2.3">2</tspan></text>
<rect x="373.75" y="353.18" width="5.8" height="5.8" fill="#fff" stroke="#666" stroke-width="0.7"/>
<text class="g" transform="translate(383.30 358.78) scale(0.925 1)" text-anchor="start">1.68 mg/m<tspan font-size="4.2" dy="-2.3">2</tspan></text>
<rect x="373.75" y="363.74" width="5.8" height="5.8" fill="url(#pHsB)" stroke="#333" stroke-width="0.7"/>
<text class="g" transform="translate(383.30 369.33) scale(0.925 1)" text-anchor="start">1.2 mg/m<tspan font-size="4.2" dy="-2.3">2</tspan></text>
<rect x="373.75" y="374.29" width="5.8" height="5.8" fill="url(#pDots)" stroke="#2e2e2e" stroke-width="0.7"/>
<text class="g" transform="translate(383.30 379.89) scale(0.925 1)" text-anchor="start">0.8 mg/m<tspan font-size="4.2" dy="-2.3">2</tspan></text>
<rect x="373.75" y="384.85" width="5.8" height="5.8" fill="url(#pCross2)" stroke="#2a2a2a" stroke-width="0.7"/>
<text class="g" transform="translate(383.30 390.44) scale(0.925 1)" text-anchor="start">0.48 mg/m<tspan font-size="4.2" dy="-2.3">2</tspan></text>
<rect x="373.75" y="395.40" width="5.8" height="5.8" fill="#a2a2a2" stroke="#555" stroke-width="0.7"/>
<text class="g" transform="translate(383.30 401.00) scale(0.925 1)" text-anchor="start">0.24 mg/m<tspan font-size="4.2" dy="-2.3">2</tspan></text>
</g>
</svg></body></html>
